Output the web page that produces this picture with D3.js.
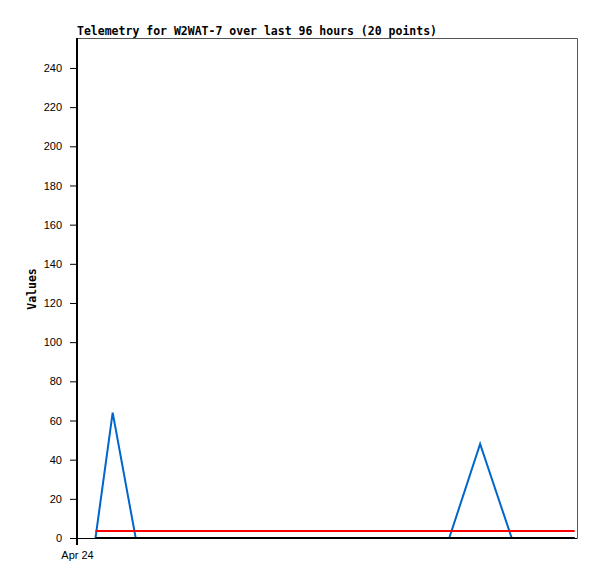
<!DOCTYPE html>
<html>
<head>
<meta charset="utf-8">
<script src="https://cdn.jsdelivr.net/npm/d3@7"></script>
<style>
  body { margin: 0; background: #fff; }
  svg { display: block; }
</style>
</head>
<body>
<div id="chart"></div>
<script>
// hours after Apr 24 00:00 for each of the 20 points
const hours = [3.55, 6.85, 11.27, 16, 21, 26, 31, 36, 41, 46, 51, 56, 61, 66, 71.47, 77.4, 83.46, 87.5, 91.5, 95.55];
const blueValues  = [0, 64, 0, 0, 0, 0, 0, 0, 0, 0, 0, 0, 0, 0, 0, 48, 0, 0, 0, 0];
const redValues   = [3.6, 3.6, 3.6, 3.6, 3.6, 3.6, 3.6, 3.6, 3.6, 3.6, 3.6, 3.6, 3.6, 3.6, 3.6, 3.6, 3.6, 3.6, 3.6, 3.6];
const blackValues = [0, 0, 0, 0, 0, 0, 0, 0, 0, 0, 0, 0, 0, 0, 0, 0, 0, 0, 0, 0];
const yTicks = [0, 20, 40, 60, 80, 100, 120, 140, 160, 180, 200, 220, 240];
const xTickLabels = ["Apr 24"];
const titleText = "Telemetry for W2WAT-7 over last 96 hours (20 points)";

const width = 597, height = 579;
const margin = { top: 38, right: 20, bottom: 41, left: 77 };

const t0 = new Date(2024, 3, 24, 0, 0);
const times = hours.map(h => new Date(t0.getTime() + h * 3600e3));

const svg = d3.select("#chart").append("svg")
    .attr("width", width)
    .attr("height", height);

const x = d3.scaleTime()
  .domain([t0, new Date(t0.getTime() + 96 * 3600e3)])
  .range([margin.left, width - margin.right]);

const y = d3.scaleLinear()
  .domain([0, 255.3])
  .range([height - margin.bottom, margin.top]);

// frame: top and right border
svg.append("path")
  .attr("d", `M${margin.left},${margin.top + 0.5}H${width - margin.right + 0.5}V${height - margin.bottom}`)
  .attr("fill", "none")
  .attr("stroke", "#555")
  .attr("stroke-width", 1);

// y axis
const yAxis = svg.append("g")
  .attr("transform", `translate(${margin.left},0)`)
  .call(d3.axisLeft(y).tickValues(yTicks).tickSize(7).tickPadding(8).tickSizeOuter(0));
yAxis.select(".domain").remove();
yAxis.selectAll("line").attr("stroke", "#000");
yAxis.selectAll("text")
  .style("font-family", "'Liberation Sans', Arial, sans-serif")
  .style("font-size", "11px")
  .attr("fill", "#000");
svg.append("line")
  .attr("x1", margin.left).attr("x2", margin.left)
  .attr("y1", margin.top).attr("y2", height - margin.bottom + 7)
  .attr("stroke", "#000").attr("stroke-width", 2);

// x axis
const xAxis = svg.append("g")
  .attr("transform", `translate(0,${height - margin.bottom})`)
  .call(d3.axisBottom(x).tickValues([t0]).tickFormat((d, i) => xTickLabels[i]).tickSize(0).tickPadding(13).tickSizeOuter(0));
xAxis.select(".domain").attr("stroke", "#000");
xAxis.selectAll("text")
  .style("font-family", "'Liberation Sans', Arial, sans-serif")
  .style("font-size", "11px")
  .attr("fill", "#000");

// series
const line = vals => d3.line()
  .x((d, i) => x(times[i]))
  .y(d => y(d))(vals);

svg.append("path").attr("d", line(blueValues))
  .attr("fill", "none").attr("stroke", "#0066cc").attr("stroke-width", 2);
svg.append("path").attr("d", line(redValues))
  .attr("fill", "none").attr("stroke", "#ff0000").attr("stroke-width", 2);
svg.append("path").attr("d", line(blackValues))
  .attr("fill", "none").attr("stroke", "#000").attr("stroke-width", 2);

// title
svg.append("text")
  .attr("x", margin.left)
  .attr("y", 35)
  .style("font-family", "'DejaVu Sans Mono', monospace")
  .style("font-weight", "bold")
  .style("font-size", "11.5px")
  .text(titleText);

// y label
svg.append("text")
  .attr("transform", `translate(36,${(margin.top + height - margin.bottom) / 2 + 1}) rotate(-90)`)
  .attr("text-anchor", "middle")
  .style("font-family", "'DejaVu Sans Mono', monospace")
  .style("font-weight", "bold")
  .style("font-size", "11.5px")
  .text("Values");
</script>
</body>
</html>
